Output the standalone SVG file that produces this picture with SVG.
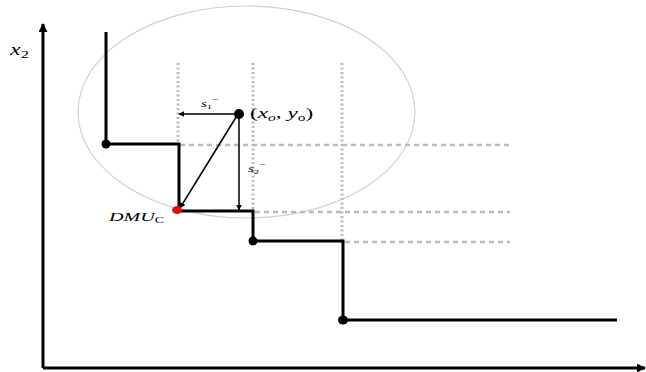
<svg xmlns="http://www.w3.org/2000/svg" width="646" height="372" viewBox="0 0 646 372">
<style>
.axis{stroke:#000;stroke-width:3;fill:none}
.stair{stroke:#000;stroke-width:3;fill:none}
.vdot{stroke:#bbb;stroke-width:3;stroke-dasharray:2 2.5;fill:none}
.hdash{stroke:#bbb;stroke-width:2.5;stroke-dasharray:5 4;fill:none}
.arr{stroke:#000;stroke-width:1.5;fill:none}
.math{font-family:"Liberation Serif",serif;fill:#000}
.it{font-style:italic}
</style>
<defs>
<marker id="ah" viewBox="0 0 10 10" refX="9" refY="5" markerWidth="6" markerHeight="6" orient="auto" markerUnits="userSpaceOnUse">
<path d="M0,0 L10,5 L0,10 z" fill="#000"/>
</marker>
<marker id="axh" viewBox="0 0 10 10" refX="9" refY="5" markerWidth="9" markerHeight="9" orient="auto" markerUnits="userSpaceOnUse">
<path d="M0,0 L10,5 L0,10 z" fill="#000"/>
</marker>
</defs>
<rect width="646" height="372" fill="#fff"/>
<ellipse id="circle" cx="246.5" cy="112" rx="168.5" ry="106" fill="none" stroke="#d0d0d0" stroke-width="1.2"/>
<g id="guides">
<line class="vdot" x1="178" y1="63" x2="178" y2="144"/>
<line class="vdot" x1="253" y1="63" x2="253" y2="211"/>
<line class="vdot" x1="342" y1="63" x2="342" y2="241"/>
<line class="hdash" x1="180" y1="145" x2="510" y2="145"/>
<line class="hdash" x1="255" y1="212" x2="510" y2="212"/>
<line class="hdash" x1="345" y1="242" x2="510" y2="242"/>
</g>
<g id="axes">
<line class="axis" x1="43" y1="368" x2="43" y2="24" marker-end="url(#axh)"/>
<line class="axis" x1="43" y1="368" x2="645" y2="368" marker-end="url(#axh)"/>
</g>
<g id="frontier">
<path class="stair" d="M106,32 V144 H179 V211 H253 V241 H343 V320 H617"/>
</g>
<g id="connectors">
<line class="arr" x1="238" y1="114" x2="179" y2="114" marker-end="url(#ah)"/>
<line class="arr" x1="239" y1="114" x2="239" y2="210" marker-end="url(#ah)"/>
<line class="arr" x1="238" y1="114" x2="180" y2="208" stroke-width="2.2" marker-end="url(#ah)"/>
</g>
<g id="nodes">
<g id="p1"><circle cx="106" cy="144" r="4.5" fill="#000"/></g>
<g id="dmu"><ellipse cx="177" cy="210" rx="5" ry="4" fill="#e01010"/></g>
<g id="p3"><circle cx="253" cy="241" r="4.5" fill="#000"/></g>
<g id="p4"><ellipse cx="343" cy="320" rx="5" ry="4.5" fill="#000"/></g>
<g id="xo"><circle cx="239" cy="114" r="5" fill="#000"/></g>
</g>
<g id="labels">
<text class="math" transform="translate(10,55) scale(1.5,1)" font-size="16"><tspan class="it">x</tspan><tspan font-size="11" dy="3">2</tspan></text>
<text class="math" transform="translate(250,118) scale(1.55,1)" font-size="15">(<tspan class="it">x</tspan><tspan class="it" font-size="10" dy="3">o</tspan><tspan dy="-3">, </tspan><tspan class="it">y</tspan><tspan font-size="10" dy="3">o</tspan><tspan dy="-3">)</tspan></text>
<text class="math" transform="translate(201,107) scale(1.5,1)" font-size="10"><tspan class="it">s</tspan><tspan font-size="7" dy="1.5">1</tspan><tspan font-size="8" dy="-6.5">−</tspan></text>
<text class="math" transform="translate(248,172) scale(1.5,1)" font-size="10"><tspan class="it">s</tspan><tspan font-size="7" dy="1.5">2</tspan><tspan font-size="8" dy="-6.5">−</tspan></text>
<text class="math it" transform="translate(109,221) scale(1.55,1)" font-size="13">DMU<tspan font-size="9" dy="2" font-style="normal">C</tspan></text>
</g>
</svg>
